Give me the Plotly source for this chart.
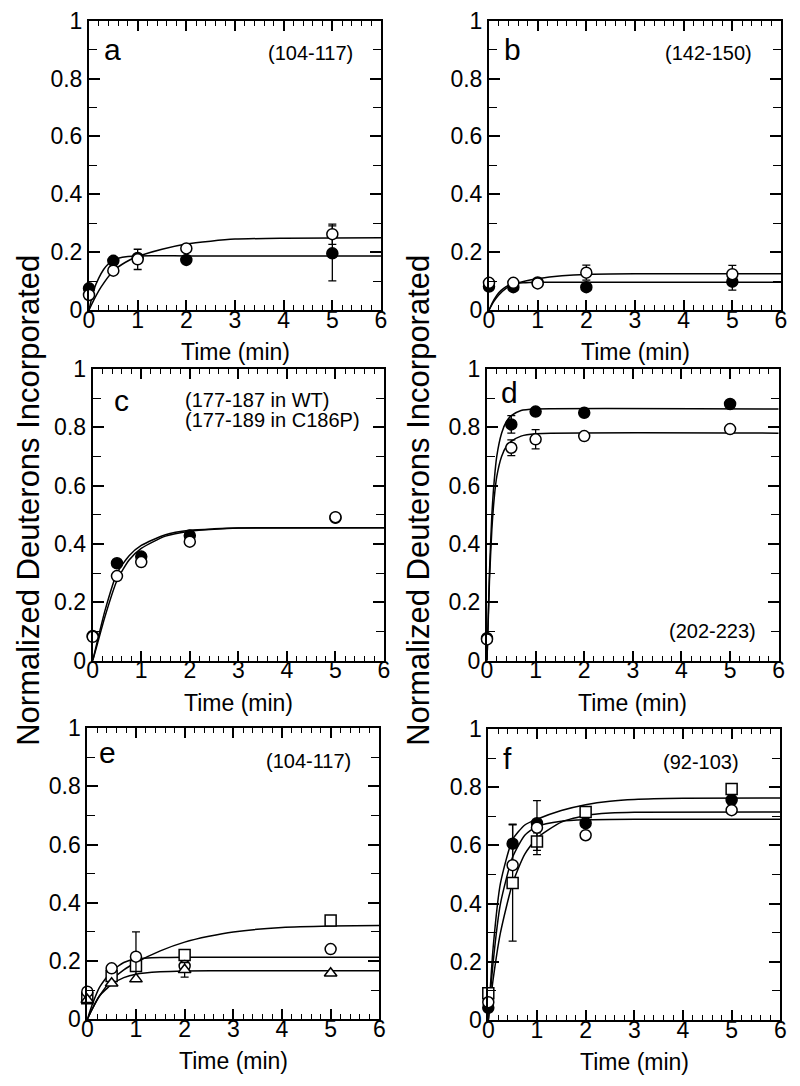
import plotly.graph_objects as go

W, H = 800, 1086
OFF = 8  # page body margin of the browser
FW, FH = W - OFF, H - OFF
FONT = "Liberation Sans, Arial, Helvetica, sans-serif"

# ---------------- data ----------------
t_pts = [0, 0.5, 1, 2, 5]

# panel a (104-117)
a_filled = [0.075, 0.17, 0.18, 0.173, 0.196]
a_filled_err = [None, None, None, None, 0.095]
a_open = [0.052, 0.136, 0.175, 0.213, 0.262]
a_open_err = [None, None, 0.035, None, 0.035]
a_fit_filled_t = [0, 0.1, 0.2, 0.3, 0.4, 0.5, 0.6, 0.8, 1, 2, 3, 6]
a_fit_filled_y = [0.0, 0.07, 0.11, 0.14, 0.16, 0.172, 0.179, 0.185, 0.187, 0.187, 0.187, 0.187]
a_fit_open_t = [0, 0.1, 0.25, 0.5, 0.75, 1, 1.5, 2, 2.5, 3, 4, 6]
a_fit_open_y = [0.0, 0.035, 0.08, 0.135, 0.165, 0.185, 0.21, 0.228, 0.238, 0.245, 0.248, 0.25]

# panel b (142-150)
b_filled = [0.081, 0.079, 0.095, 0.079, 0.098]
b_filled_err = [None, None, None, None, 0.029]
b_open = [0.094, 0.094, 0.092, 0.129, 0.124]
b_open_err = [None, None, None, 0.026, 0.03]
b_fit_filled_t = [0, 0.1, 0.2, 0.3, 0.4, 0.5, 0.7, 1, 6]
b_fit_filled_y = [0.0, 0.035, 0.06, 0.075, 0.085, 0.09, 0.094, 0.096, 0.096]
b_fit_open_t = [0, 0.1, 0.2, 0.35, 0.5, 0.75, 1, 1.5, 2, 3, 6]
b_fit_open_y = [0.0, 0.03, 0.052, 0.075, 0.088, 0.1, 0.108, 0.118, 0.123, 0.125, 0.125]

# panel c (177-187 in WT / 177-189 in C186P)
c_filled = [0.085, 0.334, 0.357, 0.429, 0.49]
c_open = [0.082, 0.29, 0.338, 0.408, 0.492]
c_fit_t = [0, 0.1, 0.25, 0.5, 0.75, 1, 1.5, 2, 2.5, 3, 6]
c_fit_filled_y = [0.0, 0.07, 0.17, 0.3, 0.36, 0.395, 0.432, 0.447, 0.452, 0.455, 0.456]
c_fit_open_y = [0.0, 0.06, 0.15, 0.275, 0.345, 0.385, 0.427, 0.444, 0.451, 0.455, 0.456]

# panel d (202-223)
d_filled = [0.077, 0.81, 0.854, 0.85, 0.88]
d_filled_err = [None, 0.03, None, None, None]
d_open = [0.073, 0.73, 0.759, 0.77, 0.794]
d_open_err = [None, 0.027, 0.033, None, None]
d_fit_t = [0, 0.05, 0.1, 0.15, 0.2, 0.3, 0.4, 0.5, 0.7, 1, 6]
d_fit_filled_y = [0.0, 0.3, 0.5, 0.62, 0.7, 0.78, 0.82, 0.84, 0.858, 0.863, 0.863]
d_fit_open_y = [0.0, 0.27, 0.45, 0.56, 0.63, 0.7, 0.735, 0.752, 0.77, 0.778, 0.78]

# panel e (104-117), three variants
e_circle = [0.095, 0.175, 0.215, 0.183, 0.241]
e_circle_err = [None, None, 0.085, None, None]
e_square = [0.072, 0.149, 0.183, 0.221, 0.339]
e_triangle = [0.067, 0.124, 0.138, 0.17, 0.158]
e_triangle_err = [None, None, None, 0.025, None]
e_fit_sq_t = [0, 0.1, 0.25, 0.5, 0.75, 1, 1.5, 2, 2.5, 3, 4, 5, 6]
e_fit_sq_y = [0.0, 0.035, 0.08, 0.135, 0.17, 0.195, 0.235, 0.265, 0.285, 0.3, 0.315, 0.32, 0.322]
e_fit_ci_t = [0, 0.1, 0.25, 0.5, 0.75, 1, 1.5, 2, 6]
e_fit_ci_y = [0.0, 0.05, 0.11, 0.165, 0.195, 0.207, 0.212, 0.213, 0.213]
e_fit_tr_t = [0, 0.1, 0.25, 0.5, 0.75, 1, 1.5, 2, 3, 6]
e_fit_tr_y = [0.0, 0.035, 0.08, 0.12, 0.143, 0.155, 0.163, 0.166, 0.167, 0.167]

# panel f (92-103)
f_filled = [0.042, 0.606, 0.676, 0.676, 0.756]
f_filled_err = [None, 0.067, None, None, None]
f_open = [0.061, 0.532, 0.661, 0.635, 0.721]
f_open_err = [None, None, 0.093, None, None]
f_square = [0.092, 0.471, 0.613, 0.715, 0.794]
f_square_err = [None, 0.2, 0.03, None, None]
f_fit1_t = [0, 0.1, 0.25, 0.5, 0.75, 1, 1.5, 2, 2.5, 3, 4, 6]
f_fit1_y = [0.0, 0.25, 0.47, 0.62, 0.67, 0.69, 0.72, 0.74, 0.752, 0.758, 0.762, 0.763]
f_fit2_t = [0, 0.1, 0.25, 0.5, 0.75, 1, 1.5, 2, 3, 6]
f_fit2_y = [0.0, 0.2, 0.4, 0.56, 0.635, 0.665, 0.683, 0.688, 0.69, 0.69]
f_fit3_t = [0, 0.1, 0.25, 0.5, 0.75, 1, 1.5, 2, 2.5, 3, 6]
f_fit3_y = [0.0, 0.14, 0.3, 0.47, 0.57, 0.625, 0.68, 0.703, 0.711, 0.714, 0.715]

panel_letters = ["a", "b", "c", "d", "e", "f"]
x_ticks = [0, 1, 2, 3, 4, 5, 6]
y_ticks = [0, 0.2, 0.4, 0.6, 0.8, 1]
x_title = "Time (min)"
y_title = "Normalized Deuterons Incorporated"

# ---------------- layout geometry (window pixels) ----------------
# (left, right, top, bottom) of each plot frame
frames = [
    (89, 381, 20.7, 310),
    (489, 781, 20.7, 310),
    (92.7, 384, 369, 660.7),
    (487, 778.7, 369, 660.7),
    (87.3, 379.3, 728, 1019.3),
    (488.3, 780.3, 729, 1020),
]


def px(x):
    return (x - OFF) / FW


def py(y):
    return 1 - (y - OFF) / FH


fig = go.Figure()


def ax_names(i):
    s = "" if i == 0 else str(i + 1)
    return "x" + s, "y" + s


def add_fit(i, tt, yy):
    xa, ya = ax_names(i)
    fig.add_trace(go.Scatter(x=tt, y=yy, mode="lines", xaxis=xa, yaxis=ya,
                             line=dict(color="black", width=1.5, shape="spline", smoothing=0.6),
                             hoverinfo="skip"))


def add_pts(i, yy, symbol, filled, err=None):
    xa, ya = ax_names(i)
    ey = None
    if err is not None:
        ey = dict(type="data", array=err, visible=True, color="black", thickness=1.3, width=4)
    fig.add_trace(go.Scatter(
        x=t_pts, y=yy, mode="markers", xaxis=xa, yaxis=ya, cliponaxis=False,
        marker=dict(symbol=symbol, size=11,
                    color="black" if filled else "white",
                    line=dict(color="black", width=1.5)),
        error_y=ey))


# panel a
add_fit(0, a_fit_filled_t, a_fit_filled_y)
add_fit(0, a_fit_open_t, a_fit_open_y)
add_pts(0, a_filled, "circle", True, a_filled_err)
add_pts(0, a_open, "circle", False, a_open_err)
# panel b
add_fit(1, b_fit_filled_t, b_fit_filled_y)
add_fit(1, b_fit_open_t, b_fit_open_y)
add_pts(1, b_filled, "circle", True, b_filled_err)
add_pts(1, b_open, "circle", False, b_open_err)
# panel c
add_fit(2, c_fit_t, c_fit_filled_y)
add_fit(2, c_fit_t, c_fit_open_y)
add_pts(2, c_filled, "circle", True)
add_pts(2, c_open, "circle", False)
# panel d
add_fit(3, d_fit_t, d_fit_filled_y)
add_fit(3, d_fit_t, d_fit_open_y)
add_pts(3, d_filled, "circle", True, d_filled_err)
add_pts(3, d_open, "circle", False, d_open_err)
# panel e
add_fit(4, e_fit_sq_t, e_fit_sq_y)
add_fit(4, e_fit_ci_t, e_fit_ci_y)
add_fit(4, e_fit_tr_t, e_fit_tr_y)
add_pts(4, e_square, "square", False)
add_pts(4, e_circle, "circle", False, e_circle_err)
add_pts(4, e_triangle, "triangle-up", False, e_triangle_err)
# panel f
add_fit(5, f_fit1_t, f_fit1_y)
add_fit(5, f_fit2_t, f_fit2_y)
add_fit(5, f_fit3_t, f_fit3_y)
add_pts(5, f_filled, "circle", True, f_filled_err)
add_pts(5, f_square, "square", False, f_square_err)
add_pts(5, f_open, "circle", False, f_open_err)

layout = dict(width=FW, height=FH, margin=dict(l=0, r=0, t=0, b=0, autoexpand=False),
              template="none",
              paper_bgcolor="white", plot_bgcolor="white", showlegend=False,
              font=dict(family=FONT, color="black"))

annotations = []
for i, (l, r, tp, bt) in enumerate(frames):
    xa, ya = ax_names(i)
    xk = "xaxis" + ("" if i == 0 else str(i + 1))
    yk = "yaxis" + ("" if i == 0 else str(i + 1))
    layout[xk] = dict(domain=[px(l), px(r)], anchor=ya, range=[0, 6], automargin=False,
                      tickvals=x_ticks, ticks="inside", ticklen=10, tickwidth=1.5, tickcolor="black",
                      minor=dict(dtick=0.2, tick0=0, ticks="inside", ticklen=5, tickwidth=1.2, tickcolor="black"),
                      showline=True, linewidth=2, linecolor="black", mirror="allticks",
                      showgrid=False, zeroline=False, tickfont=dict(size=23, family=FONT),
                      ticklabelstandoff=-12, ticklabeloverflow="allow", fixedrange=True)
    layout[yk] = dict(domain=[py(bt), py(tp)], anchor=xa, range=[0, 1], automargin=False,
                      tickvals=y_ticks, ticks="inside", ticklen=11, tickwidth=1.5, tickcolor="black",
                      minor=dict(dtick=0.1, tick0=0, ticks="inside", ticklen=8, tickwidth=1.2, tickcolor="black"),
                      showline=True, linewidth=2, linecolor="black", mirror="allticks",
                      showgrid=False, zeroline=False, tickfont=dict(size=23, family=FONT),
                      ticklabeloverflow="allow", fixedrange=True)
    # x-axis title
    annotations.append(dict(text=x_title, xref="paper", yref="paper",
                            x=px((l + r) / 2), y=py(bt + 42),
                            xanchor="center", yanchor="middle", showarrow=False,
                            font=dict(size=23, family=FONT)))

# panel letters (data coords of each panel)
letter_pos = [(0.27, 0.90), (0.27, 0.90), (0.40, 0.892), (0.25, 0.918), (0.20, 0.917), (0.26, 0.90)]
for i, (lx, ly) in enumerate(letter_pos):
    xa, ya = ax_names(i)
    annotations.append(dict(text=panel_letters[i], xref=xa, yref=ya, x=lx, y=ly,
                            xanchor="left", yanchor="middle", showarrow=False,
                            font=dict(size=30, family=FONT)))

# region labels
regions = [
    (0, "(104-117)", 5.47, 0.887, "right"),
    (1, "(142-150)", 5.44, 0.888, "right"),
    (2, "(177-187 in WT)", 1.86, 0.894, "left"),
    (2, "(177-189 in C186P)", 1.86, 0.825, "left"),
    (3, "(202-223)", 5.58, 0.103, "right"),
    (4, "(104-117)", 5.46, 0.886, "right"),
    (5, "(92-103)", 5.2, 0.887, "right"),
]
for i, txt, rx, ry, anc in regions:
    xa, ya = ax_names(i)
    annotations.append(dict(text=txt, xref=xa, yref=ya, x=rx, y=ry,
                            xanchor=anc, yanchor="middle", showarrow=False,
                            font=dict(size=20, family=FONT)))

# shared y titles (left and middle)
for xc in (28.8, 418.8):
    annotations.append(dict(text=y_title, xref="paper", yref="paper",
                            x=px(xc), y=py(500), textangle=-90,
                            xanchor="center", yanchor="middle", showarrow=False,
                            font=dict(size=31, family=FONT)))

layout["annotations"] = annotations
fig.update_layout(**layout)
fig.write_html("out.html")
